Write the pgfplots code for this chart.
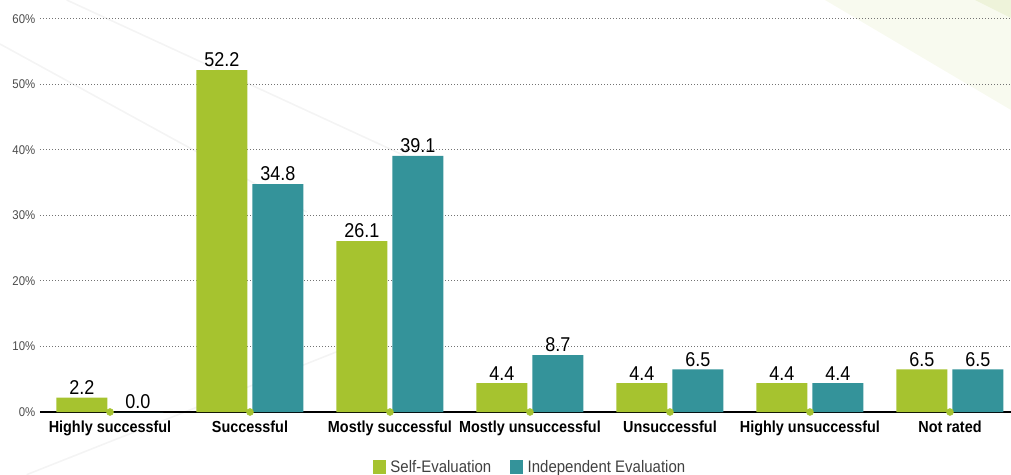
\documentclass[border=0pt]{standalone}
\usepackage{fontspec}
\setmainfont{Liberation Sans}[FakeStretch=0.9]
\usepackage{pgfplots}
\pgfplotsset{compat=1.18}
\definecolor{selfgreen}{HTML}{A6C32F}
\definecolor{indteal}{HTML}{34939A}
\definecolor{bgtri}{HTML}{F8FAEF}
\definecolor{bgtridark}{HTML}{EEF3DA}
\definecolor{bgline}{HTML}{F4F4F4}
\begin{document}
\begin{tikzpicture}
% faint background decoration
\fill[bgtri] (588.75pt,309pt) -- (728.25pt,309pt) -- (728.25pt,226.5pt) -- cycle;
\fill[bgtridark] (701.25pt,309pt) -- (728.25pt,309pt) -- (728.25pt,295.5pt) -- cycle;
\draw[bgline, line width=1.2pt] (20pt,309pt) -- (300pt,180pt);
\draw[bgline, line width=1.2pt] (-30pt,276pt) -- (200pt,150pt);
\draw[bgline, line width=1.2pt] (-10pt,-47pt) -- (260pt,60pt);
\begin{axis}[
  at={(0pt,0pt)}, anchor=south west,
  scale only axis, width=728.25pt, height=309pt,
  xmin=-0.5, xmax=6.436, ymin=0, ymax=62.9,
  ybar=3.75pt, bar width=38.25pt,
  axis x line=bottom, axis y line=left,
  x axis line style={-, black, line width=1.1pt},
  y axis line style={draw=none},
  ymajorgrids, grid style={dash pattern=on 0.75pt off 1.5pt, black!55, line width=0.75pt},
  major tick length=0pt,
  ytick={0,10,20,30,40,50,60},
  /pgf/number format/assume math mode=true,
  yticklabel={\pgfmathprintnumber{\tick}\%},
  yticklabel style={font=\fontsize{9.5}{9.5}\selectfont, text=black!70},
  xtick={0,1,2,3,4,5,6},
  xticklabels={Highly successful,Successful,Mostly successful,Mostly unsuccessful,Unsuccessful,Highly unsuccessful,Not rated},
  xticklabel style={font=\bfseries\fontsize{12}{12}\selectfont, text=black, yshift=-3.5pt},
  clip=false,
  legend style={at={(0.505,-0.1335)}, anchor=center, draw=none, fill=none,
    legend columns=2, font=\fontsize{12.5}{12.5}\selectfont, text=black!75,
    /tikz/every odd column/.append style={column sep=1.5pt},
    /tikz/every even column/.append style={column sep=12pt}},
  legend image code/.code={\fill[#1] (0pt,-4.9pt) rectangle (9.75pt,4.9pt);},
  every node near coord/.append style={font=\fontsize{15}{15}\selectfont, text=black, inner sep=2pt,
    /pgf/number format/.cd, fixed, fixed zerofill, precision=1},
]
\addplot[fill=selfgreen, draw=none, nodes near coords] coordinates {
  (0,2.2) (1,52.2) (2,26.1) (3,4.4) (4,4.4) (5,4.4) (6,6.5)};
\addplot[fill=indteal, draw=none, nodes near coords] coordinates {
  (0,0.0) (1,34.8) (2,39.1) (3,8.7) (4,6.5) (5,4.4) (6,6.5)};
\legend{Self-Evaluation, Independent Evaluation}
\addplot[forget plot, sharp plot, only marks, mark=*, mark size=2.6pt, selfgreen] coordinates {
  (0,0) (1,0) (2,0) (3,0) (4,0) (5,0) (6,0)};
\end{axis}
\pgfresetboundingbox
\useasboundingbox (-30pt,-47.25pt) rectangle (728.25pt,309pt);
\end{tikzpicture}
\end{document}
